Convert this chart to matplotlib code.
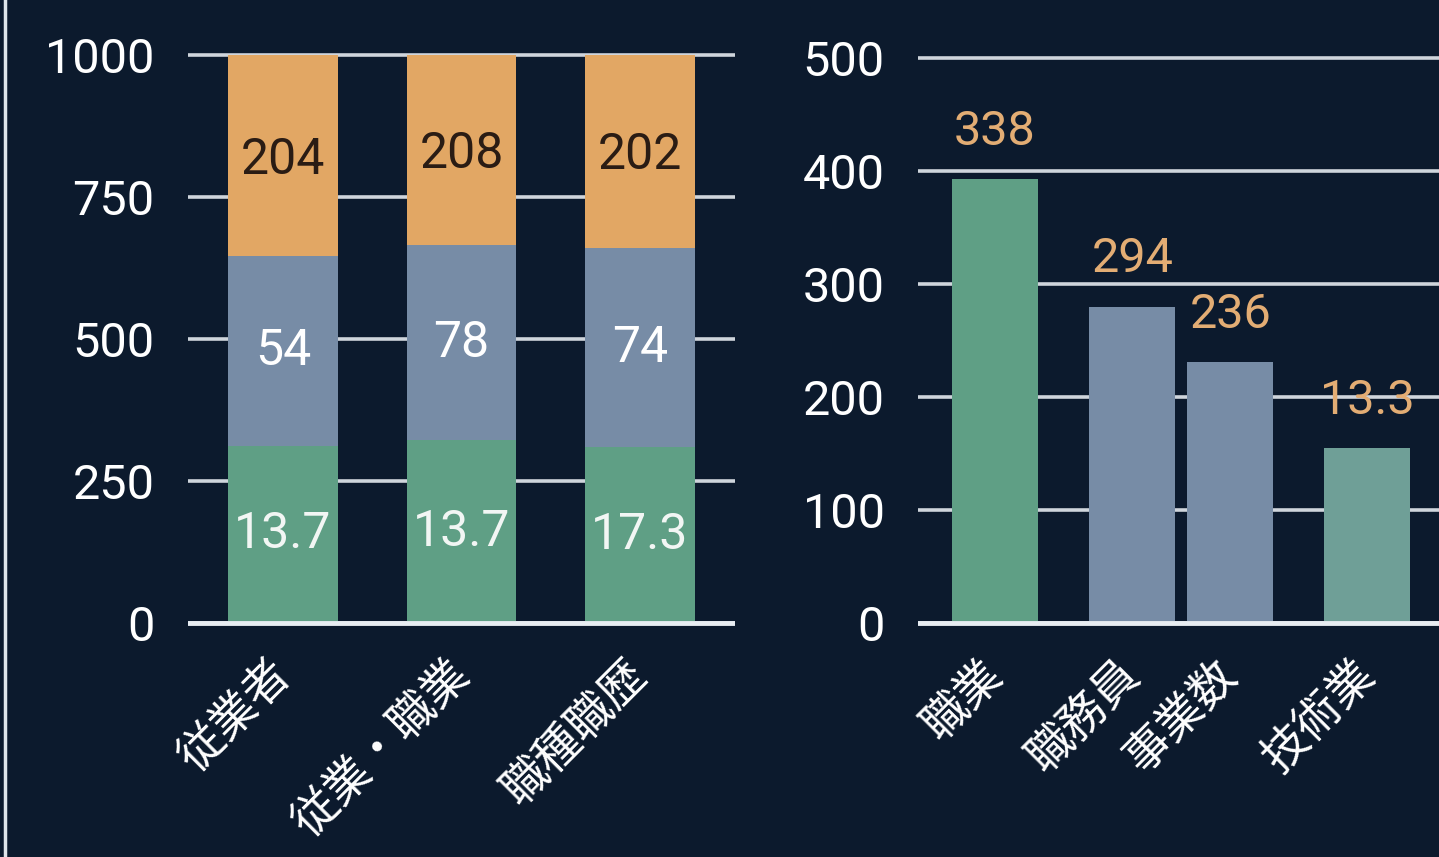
import matplotlib
matplotlib.use("Agg")
import matplotlib.pyplot as plt
from matplotlib.lines import Line2D

# ---- data ----
left_categories = ["従業者", "従業・職業", "職種職歴"]
left_green = [312, 322, 310]
left_blue = [334, 343, 350]
left_orange = [354, 335, 340]
left_green_labels = ["13.7", "13.7", "17.3"]
left_blue_labels = ["54", "78", "74"]
left_orange_labels = ["204", "208", "202"]
left_yticks = [0, 250, 500, 750, 1000]

right_categories = ["職業", "職務員", "事業数", "技術業"]
right_values = [393, 280, 231, 155]
right_labels = ["338", "294", "236", "13.3"]
right_yticks = [0, 100, 200, 300, 400, 500]

# ---- style ----
BG = "#0c1a2d"
GREEN = "#5f9f85"
BLUE = "#778ca6"
ORANGE = "#e2a764"
TEAL = "#6f9f97"
GRID = "#cfd5dc"
NUMFONT = ["Roboto", "Liberation Sans", "DejaVu Sans"]
NUMWEIGHT = "normal"
JPFONT = ["Noto Sans CJK JP", "DejaVu Sans"]

W, H = 1439, 857
fig = plt.figure(figsize=(W / 100, H / 100), dpi=100, facecolor=BG)

def px_axes(x0, x1, ytop, ybot):
    return fig.add_axes([x0 / W, 1 - ybot / H, (x1 - x0) / W, (ybot - ytop) / H])

def style_axes(ax, yticks):
    ax.set_facecolor(BG)
    for s in ax.spines.values():
        s.set_visible(False)
    ax.set_yticks(yticks)
    ax.set_yticklabels([str(t) for t in yticks], fontsize=35, color="white",
                       family=NUMFONT, weight=NUMWEIGHT)
    ax.tick_params(axis="y", length=0, pad=24)
    ax.tick_params(axis="x", length=0, pad=20)
    ax.yaxis.grid(True, color=GRID, linewidth=2.6)
    ax.set_axisbelow(True)
    ax.axhline(0, color="#e8edf2", linewidth=3.5, zorder=5)

# left stacked chart: 0 at y=623px, 1000 at y=55px
ytop, ybot = 40, 640
sc = (623 - 55) / 1000
axL = px_axes(188, 735, ytop, ybot)
axL.set_ylim(-(ybot - 623) / sc, (623 - ytop) / sc)
axL.set_xlim(-0.532, 2.532)
style_axes(axL, left_yticks)
xl = range(len(left_categories))
bw = 0.616
axL.bar(xl, left_green, bw, color=GREEN, zorder=2)
b2 = [g for g in left_green]
axL.bar(xl, left_blue, bw, bottom=b2, color=BLUE, zorder=2)
b3 = [g + b for g, b in zip(left_green, left_blue)]
axL.bar(xl, left_orange, bw, bottom=b3, color=ORANGE, zorder=2)
for i in xl:
    axL.text(i, left_green[i] * 0.5, left_green_labels[i], ha="center", va="center",
             fontsize=36, color="#f2f6f4", family=NUMFONT, weight=NUMWEIGHT, zorder=6)
    axL.text(i, b2[i] + left_blue[i] * 0.5, left_blue_labels[i], ha="center", va="center",
             fontsize=36, color="white", family=NUMFONT, weight=NUMWEIGHT, zorder=6)
    axL.text(i, b3[i] + left_orange[i] * 0.48, left_orange_labels[i], ha="center", va="center",
             fontsize=36, color="#2a1c14", family=NUMFONT, weight=NUMWEIGHT, zorder=6)
axL.set_xticks(list(xl))
axL.set_xticklabels(left_categories, rotation=45, ha="right", va="center",
                    rotation_mode="anchor", fontsize=33, color="white", family=JPFONT)

# right chart: 0 at y=623, 500 at y=58
sc2 = (623 - 58) / 500
axR = px_axes(918, 1439, ytop, ybot)
axR.set_ylim(-(ybot - 623) / sc2, (623 - ytop) / sc2)
x_pos = [0, 1.4, 2.4, 3.8]
axR.set_xlim(-0.786, 4.53)
style_axes(axR, right_yticks)
colors_r = [GREEN, BLUE, BLUE, TEAL]
axR.bar(x_pos, right_values, 0.878, color=colors_r, zorder=2)
for x, v, lab in zip(x_pos, right_values, right_labels):
    axR.annotate(lab, (x, v), xytext=(0, 34), textcoords="offset points",
                 ha="center", va="center", fontsize=35, color="#e3ad74",
                 family=NUMFONT, weight=NUMWEIGHT, zorder=6)
axR.set_xticks(x_pos)
axR.set_xticklabels(right_categories, rotation=45, ha="right", va="center",
                    rotation_mode="anchor", fontsize=33, color="white", family=JPFONT)

# left frame line
fig.add_artist(Line2D([5 / W, 5 / W], [0, 1], color="#dfe5ea", linewidth=2.5))

fig.savefig("out.png", dpi=100, facecolor=BG)
